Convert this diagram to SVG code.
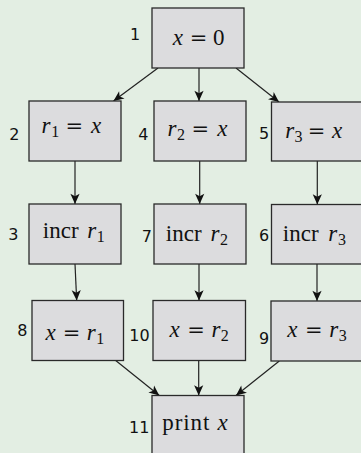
<svg xmlns="http://www.w3.org/2000/svg" width="361" height="453" viewBox="0 0 361 453">
<style>
.bg{fill:#e3eee3}
.box{fill:#dcdcde;stroke:#2a2a2a;stroke-width:1.3}
.num{font-family:"DejaVu Sans",sans-serif;font-size:16px;fill:#111}
.m{font-family:"Liberation Serif","Times New Roman",serif;font-size:23px;fill:#111}
.i{font-style:italic}
.sub{font-family:"Liberation Serif","Times New Roman",serif;font-size:16px;fill:#111}
.c{text-anchor:middle}
.eq{font-family:"DejaVu Serif",serif;font-size:21px;fill:#111;text-anchor:middle}
.edge{stroke:#222;stroke-width:1.2;fill:none;marker-end:url(#arr)}
</style>
<defs>
<marker id="arr" markerUnits="userSpaceOnUse" markerWidth="12" markerHeight="12" viewBox="-10 -5 11 10" refX="0" refY="0" orient="auto">
<path d="M0,0 L-9.5,-4.2 L-7,0 L-9.5,4.2 Z" fill="#111"/>
</marker>
</defs>
<rect class="bg" x="0" y="0" width="361" height="453"/>
<g id="connectors">
<line class="edge" x1="158" y1="68" x2="113.5" y2="101"/>
<line class="edge" x1="199" y1="68" x2="199" y2="101"/>
<line class="edge" x1="236" y1="68" x2="279" y2="102"/>
<line class="edge" x1="75" y1="161" x2="75" y2="204"/>
<line class="edge" x1="199.7" y1="161" x2="199.7" y2="204"/>
<line class="edge" x1="317.3" y1="161" x2="317.3" y2="204.5"/>
<line class="edge" x1="75" y1="264" x2="76.7" y2="300.5"/>
<line class="edge" x1="199" y1="264" x2="199" y2="300.5"/>
<line class="edge" x1="317" y1="264" x2="317" y2="301"/>
<line class="edge" x1="115.7" y1="360.5" x2="159.3" y2="395.5"/>
<line class="edge" x1="198.7" y1="360.5" x2="198.7" y2="395.5"/>
<line class="edge" x1="279.3" y1="361" x2="236" y2="395.5"/>
</g>
<g id="n1">
<rect class="box" x="152" y="8" width="92" height="60"/>
<text class="num" x="130" y="40">1</text>
<text class="m i c" x="177.9" y="45">x</text>
<text class="eq" x="198.6" y="45">=</text>
<text class="m c" x="218.7" y="45">0</text>
</g>
<g id="n2">
<rect class="box" x="29" y="101" width="92" height="60"/>
<text class="num" x="9.3" y="140">2</text>
<text class="m i c" x="46.1" y="133">r</text>
<text class="sub c" x="55.3" y="137">1</text>
<text class="eq" x="74.4" y="133">=</text>
<text class="m i c" x="96.2" y="133">x</text>
</g>
<g id="n4">
<rect class="box" x="154" y="101" width="92" height="60"/>
<text class="num" x="138.3" y="140">4</text>
<text class="m i c" x="171.9" y="136">r</text>
<text class="sub c" x="181.1" y="140">2</text>
<text class="eq" x="200.4" y="136">=</text>
<text class="m i c" x="222.4" y="136">x</text>
</g>
<g id="n5">
<rect class="box" x="271.5" y="102" width="92" height="59"/>
<text class="num" x="259" y="139">5</text>
<text class="m i c" x="289.8" y="138">r</text>
<text class="sub c" x="298.5" y="142">3</text>
<text class="eq" x="316.5" y="138">=</text>
<text class="m i c" x="337.1" y="138">x</text>
</g>
<g id="n3">
<rect class="box" x="29" y="204" width="92" height="60"/>
<text class="num" x="8.3" y="240">3</text>
<text class="m" x="42.7" y="238.3" textLength="36">incr</text>
<text class="m i c" x="91.7" y="238.3">r</text>
<text class="sub c" x="100.7" y="242.3">1</text>
</g>
<g id="n7">
<rect class="box" x="154" y="204" width="92" height="60"/>
<text class="num" x="141.7" y="241.7">7</text>
<text class="m" x="165.7" y="240.7" textLength="36">incr</text>
<text class="m i c" x="215" y="240.7">r</text>
<text class="sub c" x="224.1" y="244.7">2</text>
</g>
<g id="n6">
<rect class="box" x="271.5" y="204.5" width="92" height="59.5"/>
<text class="num" x="259" y="240.7">6</text>
<text class="m" x="282.7" y="240.7" textLength="36">incr</text>
<text class="m i c" x="332.8" y="240.7">r</text>
<text class="sub c" x="342" y="244.7">3</text>
</g>
<g id="n8">
<rect class="box" x="32" y="300.5" width="91.5" height="60"/>
<text class="num" x="17.3" y="335.7">8</text>
<text class="m i c" x="50.6" y="340">x</text>
<text class="eq" x="71.6" y="340">=</text>
<text class="m i c" x="91.3" y="340">r</text>
<text class="sub c" x="100.2" y="344">1</text>
</g>
<g id="n10">
<rect class="box" x="153" y="300.5" width="92.5" height="60"/>
<text class="num" x="129.3" y="340.7">10</text>
<text class="m i c" x="174.7" y="336.7">x</text>
<text class="eq" x="196" y="336.7">=</text>
<text class="m i c" x="215.9" y="336.7">r</text>
<text class="sub c" x="224.8" y="340.7">2</text>
</g>
<g id="n9">
<rect class="box" x="271" y="301" width="92" height="60"/>
<text class="num" x="259" y="344">9</text>
<text class="m i c" x="292.4" y="336.7">x</text>
<text class="eq" x="313.8" y="336.7">=</text>
<text class="m i c" x="333.8" y="336.7">r</text>
<text class="sub c" x="342.8" y="340.7">3</text>
</g>
<g id="n11">
<rect class="box" x="152" y="395.5" width="92" height="60"/>
<text class="num" x="129" y="432.7">11</text>
<text class="m" x="162.3" y="430" textLength="47">print</text>
<text class="m i c" x="222.5" y="430">x</text>
</g>
</svg>
